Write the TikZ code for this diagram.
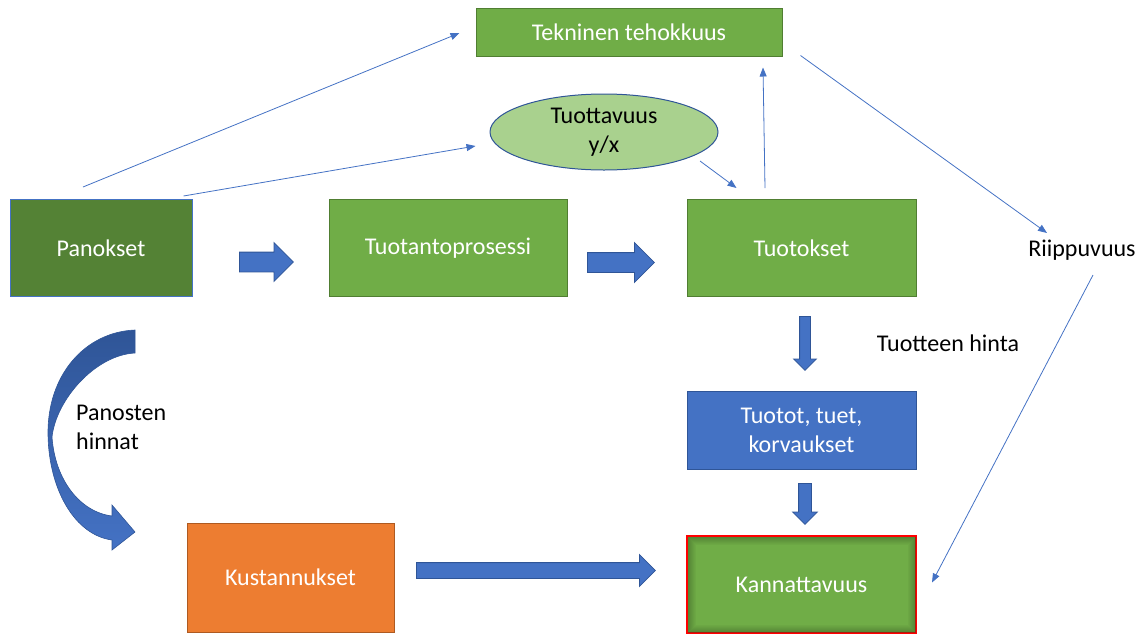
\documentclass[tikz,border=0pt]{standalone}
\usepackage{fontspec}
\setmainfont{Carlito}
\usetikzlibrary{shapes.geometric, shapes.arrows, arrows.meta, positioning}
\definecolor{boxgreen}{HTML}{70AD47}
\definecolor{darkgreen}{HTML}{548235}
\definecolor{lightgreen}{HTML}{A9D18E}
\definecolor{greenline}{HTML}{507E32}
\definecolor{glowgreen}{HTML}{2E4A1C}
\definecolor{boxblue}{HTML}{4472C4}
\definecolor{darkblue}{HTML}{2F5597}
\definecolor{boxorange}{HTML}{ED7D31}
\definecolor{orangeline}{HTML}{AE5A21}

\begin{document}
\begin{tikzpicture}[x=1pt, y=-1pt,
    font=\fontsize{24}{29}\selectfont,
    box/.style={rectangle, draw=greenline, fill=boxgreen, line width=1pt, text=white, align=center, inner sep=0pt, minimum width=229pt, minimum height=97pt},
    blockarrow/.style args={#1/#2}{single arrow, draw=darkblue, fill=boxblue, line width=0.8pt, anchor=tail, inner xsep=0pt, inner ysep=#1, single arrow head extend=#2, single arrow head indent=0pt},
    downarrow/.style args={#1/#2}{blockarrow=0pt/#2, inner xsep=#1, inner ysep=0pt, shape border rotate=270},
    link/.style={-{Triangle[length=9pt, width=7pt]}, draw=boxblue, line width=0.8pt},
    note/.style={inner sep=0pt, text=black}
]
    \useasboundingbox (0,0) rectangle (1142,633);

    \node[box, fill=darkgreen, draw=boxblue, minimum width=182pt] (panokset) at (101,248) {Panokset};
    \node[box, minimum width=238pt, right=136pt of panokset] (prosessi) {Tuotantoprosessi};
    \node[box, right=119pt of prosessi] (tuotokset) {Tuotokset};
    \node[box, fill=boxblue, draw=darkblue, minimum height=78pt, below=94pt of tuotokset] (tuotot) {Tuotot, tuet,\\korvaukset};
    \node[box, draw=red, line width=2pt, below=65pt of tuotot] (kannattavuus) {Kannattavuus};
    \node[box, fill=boxorange, draw=orangeline, minimum width=207pt, minimum height=109pt] (kustannukset) at (290.5,577.5) {Kustannukset};
    \node[box, minimum width=306pt, minimum height=48pt] (tekninen) at (629,32) {Tekninen tehokkuus};
    \node[ellipse, draw=darkblue, fill=lightgreen, line width=1pt, inner sep=0pt, minimum width=228pt, minimum height=76pt, align=center] (tuottavuus) at (604,132) {Tuottavuus\\y/x};

    \node[note] (riippuvuus) at (1082,250) {Riippuvuus};
    \node[note] (hinta) at (948,343) {Tuotteen hinta};
    \node[note, anchor=west, align=left] (panostenhinnat) at (76,427) {Panosten\\hinnat};

    \foreach \d [evaluate=\d as \op using 0.5-0.05*\d] in {2,...,10}
        \draw[glowgreen, opacity=\op, line width=1pt] ([shift={(\d,\d)}]kannattavuus.north west) rectangle ([shift={(-\d,-\d)}]kannattavuus.south east);

    \node[blockarrow=9.5pt/9.5pt, minimum height=54pt] (in2proc) at (239,262) {};
    \node[blockarrow=9.5pt/10pt, minimum height=67pt] (proc2out) at (587,262.5) {};
    \node[downarrow=5pt/6pt, minimum height=54pt] (out2rev) at (805,316) {};
    \node[downarrow=6pt/6pt, minimum height=41pt] (rev2prof) at (805,483) {};
    \node[blockarrow=7.5pt/8pt, minimum height=239pt] (cost2prof) at (416,570.5) {};

    \shade[top color=darkblue, bottom color=boxblue, draw=darkblue, line width=0.6pt]
        (135,330) .. controls (85,332) and (47,375) .. (48,435)
        .. controls (49,490) and (75,535) .. (112,540)
        -- (112,550) -- (135,532) -- (112,505) -- (112,516)
        .. controls (80,512) and (55,480) .. (52,437)
        .. controls (56,400) and (95,355) .. (135,353) -- cycle;

    \draw[link] ([shift={(-18,-12)}]panokset.north) -- ([shift={(-16,1)}]tekninen.west);
    \draw[link] ([shift={(-9,-3)}]panokset.north east) -- ([shift={(-14,14)}]tuottavuus.west);
    \draw[link] ([shift={(96,29)}]tuottavuus.center) -- ([shift={(50,-11)}]tuotokset.north west);
    \draw[link] ([shift={(-36.5,-11)}]tuotokset.north) -- ([shift={(134,11)}]tekninen.south);
    \draw[link] ([shift={(18,-1)}]tekninen.south east) -- ([shift={(-35,-17)}]riippuvuus.center);
    \draw[link] ([shift={(11,25)}]riippuvuus.center) -- ([shift={(15,-2)}]kannattavuus.east);
\end{tikzpicture}
\end{document}
